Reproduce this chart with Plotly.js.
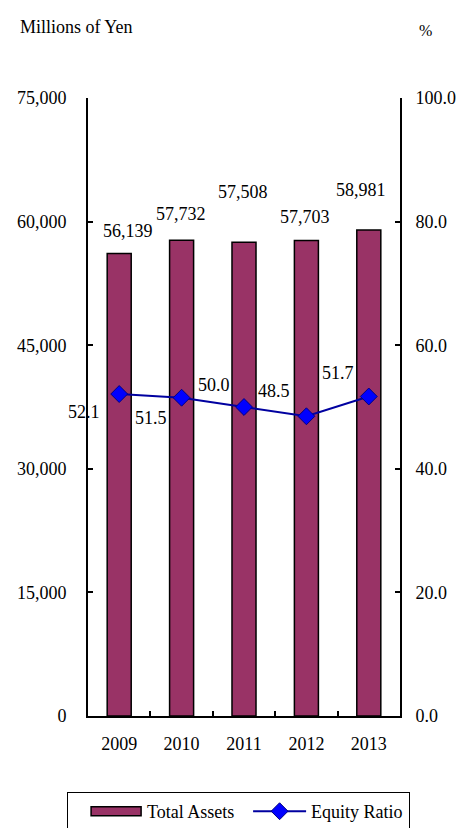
<!DOCTYPE html>
<html>
<head>
<meta charset="utf-8">
<script src="https://cdn.plot.ly/plotly-3.0.1.min.js"></script>
<style>
  html, body { margin: 0; padding: 0; background: #fff; }
  #chart { width: 457px; height: 828px; }
</style>
</head>
<body>
<div id="chart"></div>
<script>
// Fiscal years on the category axis
const years = ['2009', '2010', '2011', '2012', '2013'];
// Total assets, millions of yen (left axis)
const totalAssets = [56139, 57732, 57508, 57703, 58981];
// Equity ratio, percent (right axis)
const equityRatio = [52.1, 51.5, 50.0, 48.5, 51.7];

// Label offsets (px) so the value labels sit clear of bars and line
const assetLabelShift = [[9, 22], [-1, 26], [-1, 50], [-1, 24], [-8, 40]];
const ratioLabelShift = [[-35, -18], [-31, -20], [-30, 22], [-32, 25], [-31, 23]];

const FONT = 'Liberation Serif, Times New Roman, serif';
const BAR_COLOR = '#993366';

const traces = [
  {
    type: 'bar',
    name: 'Total Assets',
    x: years,
    y: totalAssets,
    marker: { color: BAR_COLOR, line: { color: '#000', width: 1.5 } },
    hoverinfo: 'skip'
  },
  {
    type: 'scatter',
    mode: 'lines+markers',
    name: 'Equity Ratio',
    x: years,
    y: equityRatio,
    yaxis: 'y2',
    line: { color: '#0000A0', width: 2 },
    marker: { symbol: 'diamond', size: 13, color: '#0000FF', line: { color: '#000080', width: 1 } },
    hoverinfo: 'skip'
  }
];

// On a category axis annotations are placed by category index
const annotations = [];
years.forEach((yr, i) => {
  annotations.push({
    x: i, y: totalAssets[i], xref: 'x', yref: 'y',
    text: totalAssets[i].toLocaleString('en-US'),
    showarrow: false, xanchor: 'center', yanchor: 'middle',
    xshift: assetLabelShift[i][0], yshift: assetLabelShift[i][1],
    font: { family: FONT, size: 18, color: '#000' }
  });
  annotations.push({
    x: i, y: equityRatio[i], xref: 'x', yref: 'y2',
    text: equityRatio[i].toFixed(1),
    showarrow: false, xanchor: 'center', yanchor: 'middle',
    xshift: ratioLabelShift[i][0], yshift: ratioLabelShift[i][1],
    font: { family: FONT, size: 18, color: '#000' }
  });
});

// Axis unit captions
annotations.push({
  xref: 'paper', yref: 'paper', x: -0.224, y: 1.115,
  xanchor: 'left', yanchor: 'middle', showarrow: false,
  text: 'Millions of Yen', font: { family: FONT, size: 18, color: '#000' }
});
annotations.push({
  xref: 'paper', yref: 'paper', x: 1.055, y: 1.11,
  xanchor: 'left', yanchor: 'middle', showarrow: false,
  text: '%', font: { family: FONT, size: 16, color: '#000' }
});

const axisCommon = {
  showgrid: false,
  zeroline: false,
  showline: true,
  linecolor: '#000',
  linewidth: 2,
  ticks: 'inside',
  ticklen: 5,
  tickwidth: 2,
  tickcolor: '#000',
  tickfont: { family: FONT, size: 18, color: '#000' },
  fixedrange: true
};

const LEGEND_WIDTH = 342;  // full legend box width in px
const DIAMOND_NUDGE = 8;   // move legend diamond toward the middle of its line

const layout = {
  width: 457,
  height: 828,
  margin: { l: 88, r: 57, t: 98, b: 112, autoexpand: false },
  paper_bgcolor: '#fff',
  plot_bgcolor: '#fff',
  showlegend: true,
  bargap: 0.615,
  font: { family: FONT, size: 18, color: '#000' },
  xaxis: Object.assign({}, axisCommon, {
    type: 'category',
    range: [-0.5, years.length - 0.5],
    tickson: 'boundaries',
    ticklabelstandoff: 10
  }),
  yaxis: Object.assign({}, axisCommon, {
    range: [0, 75000],
    dtick: 15000,
    tickformat: ',d',
    ticklabelstandoff: 16
  }),
  yaxis2: Object.assign({}, axisCommon, {
    overlaying: 'y',
    side: 'right',
    range: [0, 100],
    dtick: 20,
    tickformat: '.1f',
    ticklabelstandoff: 10
  }),
  legend: {
    orientation: 'h',
    x: -0.067, xanchor: 'left',
    y: -0.123, yanchor: 'top',
    bordercolor: '#000',
    borderwidth: 1,
    bgcolor: '#fff',
    itemwidth: 69,
    entrywidth: 80,
    font: { family: FONT, size: 18, color: '#000' }
  },
  annotations: annotations
};

Plotly.newPlot('chart', traces, layout, { displayModeBar: false, staticPlot: true }).then(gd => {
  const legend = gd.querySelector('g.legend');
  if (legend) {
    // Let the box and its clip region run wide enough for the second label
    const bg = legend.querySelector('rect.bg');
    if (bg) bg.setAttribute('width', LEGEND_WIDTH);
    const sb = legend.querySelector('g.scrollbox');
    const cp = sb && sb.getAttribute('clip-path');
    const idm = cp && /url\(['"]?#([^'")]+)['"]?\)/.exec(cp);
    if (idm) {
      const clip = document.getElementById(idm[1]);
      const r = clip && clip.querySelector('rect');
      if (r) r.setAttribute('width', LEGEND_WIDTH);
    }
  }
  const groups = gd.querySelectorAll('.legend g.traces');
  // Widen the bar swatch in the legend into a long, flat block
  if (groups[0]) {
    groups[0].querySelectorAll('.legendpoints path').forEach(p => {
      p.setAttribute('d', 'M-16.5,-4.5H33.5V4.5H-16.5Z');
    });
  }
  if (groups[1]) {
    // Shorten the line swatch so it ends just before its label
    groups[1].querySelectorAll('.legendlines path').forEach(p => {
      const m = /M([\d.\-]+),0h([\d.\-]+)/.exec(p.getAttribute('d') || '');
      if (m) {
        const end = parseFloat(m[1]) + parseFloat(m[2]);
        p.setAttribute('d', 'M' + (end - 53) + ',0h53');
      }
    });
    groups[1].querySelectorAll('.legendpoints path').forEach(p => {
      const t = /translate\(\s*([\d.\-]+)[ ,]+([\d.\-]+)\s*\)/.exec(p.getAttribute('transform') || '');
      if (t) {
        p.setAttribute('transform',
          'translate(' + (parseFloat(t[1]) + DIAMOND_NUDGE) + ',' + t[2] + ')');
      }
    });
  }
});
</script>
</body>
</html>
